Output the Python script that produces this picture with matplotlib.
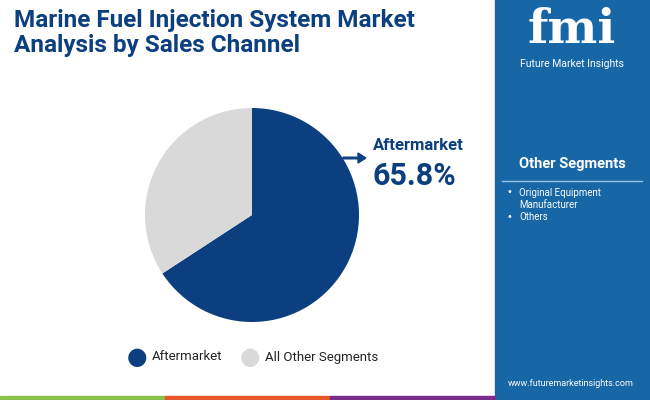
import matplotlib.pyplot as plt
from matplotlib.patches import Rectangle, FancyArrow

labels = ['Aftermarket', 'All Other Segments']
shares = [65.8, 34.2]
colores = ['#0b3f7f', '#d9d9d9']
otros = ['Original Equipment\nManufacturer', 'Others']

W, H = 650, 400
fig = plt.figure(figsize=(6.5, 4), dpi=100)
fig.patch.set_facecolor('white')

def fx(x): return x / W
def fy(y): return 1 - y / H

# panel derecho
fig.patches.append(Rectangle((fx(495), 0), fx(155), 1, transform=fig.transFigure,
                             color='#1766a6', zorder=0))
# franja inferior
for i, c in enumerate(['#8bc34a', '#e8572a', '#7b2d8b']):
    fig.patches.append(Rectangle((fx(165 * i), 0), fx(165), 4 / H,
                                 transform=fig.transFigure, color=c, zorder=1))

fig.text(fx(14), fy(33), 'Marine Fuel Injection System Market\nAnalysis by Sales Channel',
         fontsize=17.5, fontweight='bold', color='#0b3f7f', family='Roboto',
         va='center', linespacing=1.1)

# pie
ax = fig.add_axes([fx(145), fy(322), fx(214), 214 / H])
ax.pie(shares, colors=colores, startangle=90, counterclock=False)
ax.set_xlim(-1, 1)
ax.set_ylim(-1, 1)
ax.set_aspect('equal')

fig.patches.append(FancyArrow(fx(343), fy(158), fx(15), 0, width=0.004,
                              head_width=0.025, head_length=0.012,
                              transform=fig.transFigure, color='#0b3f7f'))
fig.text(fx(373), fy(146), labels[0], fontsize=12, fontweight='bold',
         color='#0b3f7f', family='Roboto', va='center')
fig.text(fx(372), fy(176), f'{shares[0]}%', fontsize=22, fontweight='bold',
         color='#0b3f7f', family='Roboto', va='center')

# leyenda
lx = [137, 250]
for x, lab, c in zip(lx, labels, colores):
    fig.text(fx(x), fy(357), '\u25cf', fontsize=17, color=c, ha='center', va='center')
    fig.text(fx(x + 15), fy(357), lab, fontsize=9.5, color='#222222',
             family='Roboto', va='center')

# logo
fig.text(fx(572), fy(30), 'fmi', fontsize=34, fontweight='bold', color='white',
         family='DejaVu Serif', ha='center', va='center')
fig.text(fx(572), fy(64), 'Future Market Insights', fontsize=7.5, color='white',
         family='Roboto', ha='center', va='center')

fig.text(fx(572), fy(164), 'Other Segments', fontsize=10.5, fontweight='bold',
         color='white', family='Roboto', ha='center', va='center')
fig.add_artist(plt.Line2D([fx(502), fx(642)], [fy(181), fy(181)], color='#9cc3e3', lw=1))
fig.text(fx(507), fy(192), '\u2022', fontsize=7, color='white', va='center')
fig.text(fx(519), fy(199), otros[0], fontsize=7, color='white', family='Roboto',
         va='center', linespacing=1.3)
fig.text(fx(507), fy(217), '\u2022', fontsize=7, color='white', va='center')
fig.text(fx(519), fy(217), otros[1], fontsize=7, color='white', family='Roboto', va='center')
fig.text(fx(571), fy(383), 'www.futuremarketinsights.com', fontsize=6.5, color='white',
         family='Roboto', ha='center', va='center')

fig.savefig('out.png', dpi=100)
